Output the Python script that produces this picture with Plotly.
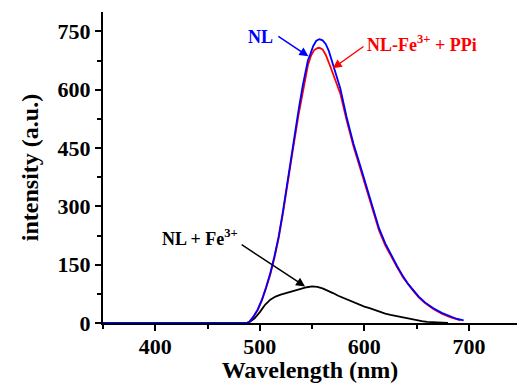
import plotly.graph_objects as go

# Wavelength (nm) / intensity (a.u.)
nl_x = [350, 485, 487.6, 490, 494, 498, 502, 506, 510, 514, 518, 522, 527, 532, 537, 541, 546, 548, 551, 554, 557, 560, 563, 566, 570, 573, 577, 583, 589.5, 596, 602, 608, 614, 620, 626, 631, 637, 642, 647, 652, 658, 666, 674, 682, 688, 695]
nl_y = [0, 0, 0, 3, 17, 35, 60, 92, 128, 172, 222, 285, 376, 460, 547, 610, 676, 689, 712, 726, 730, 727, 718, 700, 663, 635, 603, 530, 462, 405, 351, 296, 244, 205, 172, 148, 120, 100, 84, 68, 53, 38, 26, 17, 11, 7]

ppi_x = [350, 487.6, 490, 494, 498, 502, 506, 510, 514, 518, 522, 527, 532, 537, 541, 546, 549, 552, 555, 557, 560, 563, 567, 570, 573, 577, 583, 589.5, 596, 602, 608, 614, 620, 626, 631, 637, 642, 647, 652, 658, 666, 674, 682, 688, 692]
ppi_y = [0, 0, 3, 16, 33, 58, 90, 125, 168, 218, 280, 370, 452, 535, 595, 663, 688, 702, 707, 708, 704, 690, 663, 640, 618, 590, 522, 455, 398, 344, 290, 238, 200, 168, 145, 117, 98, 82, 66, 51, 36, 24, 15, 10, 7]

fe_x = [350, 487, 490, 495, 500, 505, 510, 515, 520, 525, 530, 535, 540, 545, 550, 555, 560, 565, 570, 575, 580, 585, 590, 595, 600, 605, 610, 615, 620, 625, 630, 635, 640, 645, 650, 655, 660, 665, 670, 675, 680]
fe_y = [0, 0, 2, 12, 28, 47, 60, 68, 73, 77, 81, 85, 89, 92, 94, 93, 89, 84, 77, 70, 64, 58, 52, 47, 42, 38, 33, 28, 24, 21, 18, 15, 12, 9, 7, 5, 3, 2, 1, 0.5, 0]

x_ticks = [400, 500, 600, 700]
y_ticks = [0, 150, 300, 450, 600, 750]

FONT = "Liberation Serif"

fig = go.Figure()
fig.add_trace(go.Scatter(x=fe_x, y=fe_y, mode="lines", line=dict(color="black", width=1.8), name="NL + Fe3+"))
fig.add_trace(go.Scatter(x=ppi_x, y=ppi_y, mode="lines", line=dict(color="#ff0000", width=1.8), name="NL-Fe3+ + PPi"))
fig.add_trace(go.Scatter(x=nl_x, y=nl_y, mode="lines", line=dict(color="#0000ff", width=1.8), name="NL"))

arrows = [
    dict(x=546.5, y=686, ax=516.3, ay=740, color="#0000ff"),
    dict(x=569.8, y=655, ax=600.6, ay=714, color="#ff0000"),
    dict(x=543.3, y=94, ax=481.2, ay=204, color="black"),
]
for a in arrows:
    fig.add_annotation(x=a["x"], y=a["y"], ax=a["ax"], ay=a["ay"], xref="x", yref="y",
                       axref="x", ayref="y", text="", showarrow=True, arrowhead=2,
                       arrowsize=1.2, arrowwidth=1.5, arrowcolor=a["color"], standoff=0)

labels = [
    dict(x=500.8, y=735, text="NL", color="#0000ff"),
    dict(x=655.4, y=720, text="NL-Fe<sup>3+</sup> + PPi", color="#ff0000"),
    dict(x=443.2, y=219, text="NL + Fe<sup>3+</sup>", color="black"),
]
for l in labels:
    fig.add_annotation(x=l["x"], y=l["y"], xref="x", yref="y", text=l["text"], showarrow=False,
                       font=dict(family=FONT, size=18, color=l["color"], weight="bold"))

axis_common = dict(showline=True, linecolor="black", linewidth=2, showgrid=False, zeroline=False,
                   ticks="outside", ticklen=6, tickwidth=2, tickcolor="black",
                   tickfont=dict(family=FONT, size=22, color="black", weight="bold"),
                   layer="below traces")

fig.update_xaxes(range=[350, 746], tickvals=x_ticks, ticklabelstandoff=-3,
                 minor=dict(dtick=50, tick0=350, ticks="outside", ticklen=4, tickwidth=2, tickcolor="black"),
                 title=dict(text="Wavelength (nm)", font=dict(family=FONT, size=24, color="black", weight="bold"), standoff=0),
                 **axis_common)
fig.update_yaxes(range=[0, 800], tickvals=y_ticks,
                 minor=dict(dtick=75, tick0=0, ticks="outside", ticklen=4, tickwidth=2, tickcolor="black"),
                 title=dict(text="intensity (a.u.)", font=dict(family=FONT, size=24, color="black", weight="bold"), standoff=12),
                 **axis_common)

fig.update_layout(width=518, height=383, margin=dict(l=103, r=1, t=12, b=60),
                  plot_bgcolor="white", paper_bgcolor="white", showlegend=False)

fig.write_html("out.html")
